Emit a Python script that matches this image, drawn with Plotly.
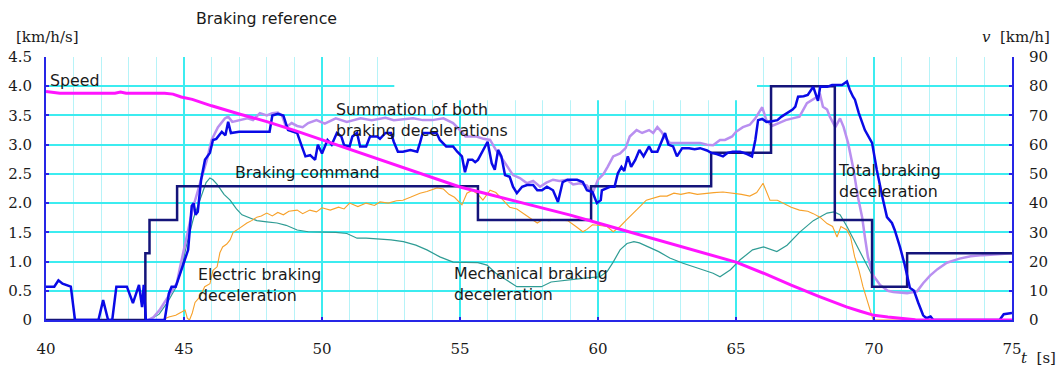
import plotly.graph_objects as go

# ---- braking test record: time [s] vs. deceleration [km/h/s] and speed [km/h] ----

speed_t = [40, 40.5, 41, 42, 42.5, 42.7, 42.9, 43.5, 44.3, 44.6, 44.9, 45.3, 46, 47, 48,
           49, 50, 51, 52, 53, 54, 55, 56, 57, 58, 59, 60, 61, 62, 63, 64, 65, 66, 67,
           68, 69, 69.5, 70, 70.5, 71, 71.5, 72, 75]
speed_v = [78.2, 77.6, 77.6, 77.6, 77.6, 78.0, 77.6, 77.6, 77.6, 77.3, 76.3, 75.5, 73.3,
           70.5, 67.9, 64.9, 61.7, 58.5, 55.2, 52.0, 48.7, 45.5, 43.1, 40.7, 38.3, 35.9,
           33.2, 30.5, 27.9, 25.2, 22.5, 19.8, 16.0, 11.9, 8.1, 4.5, 3.0, 1.6, 1.0, 0.5,
           0.1, 0.0, 0.0]

command_t = [40, 43.6, 43.75, 44.75, 55.65, 59.75, 64.1, 66.27, 68.58, 69.93, 71.2, 75]
command_v = [0.0, 1.14, 1.71, 2.29, 1.71, 2.29, 2.86, 4.0, 1.71, 0.57, 1.14, 1.14]

total_t = [40.0, 40.3, 40.45, 40.6, 40.9, 41.05, 41.9, 42.07, 42.25, 42.4, 42.55, 42.93,
           43.15, 43.37, 43.48, 43.54, 43.62, 44.3, 44.45, 44.55, 44.7, 44.9, 45.1, 45.15,
           45.28, 45.35, 45.42, 45.5, 45.62, 45.76, 45.94, 46.05, 46.17, 46.37, 46.5, 46.6,
           46.7, 47.0, 48.1, 48.2, 48.4, 48.6, 48.77, 49.1, 49.27, 49.4, 49.57, 49.75,
           49.85, 50.0, 50.2, 50.35, 50.54, 50.7, 50.8, 51.0, 51.1, 51.27, 51.38, 51.6,
           51.74, 52.0, 52.1, 52.3, 52.5, 52.6, 52.75, 52.93, 53.2, 53.45, 53.55, 53.65,
           54.15, 54.27, 54.5, 54.75, 54.9, 55.07, 55.18, 55.3, 55.45, 55.55, 55.65, 55.83,
           56.0, 56.15, 56.26, 56.38, 56.5, 56.63, 56.8, 56.92, 57.06, 57.25, 57.43, 57.65,
           57.8, 57.97, 58.15, 58.37, 58.55, 58.72, 58.9, 59.1, 59.24, 59.45, 59.6, 59.8,
           59.96, 60.1, 60.14, 60.43, 60.6, 60.72, 60.85, 60.95, 61.08, 61.2, 61.35, 61.5,
           61.65, 61.85, 61.95, 62.15, 62.32, 62.43, 62.55, 62.72, 62.86, 63.05, 63.3, 63.5,
           63.7, 63.95, 64.1, 64.3, 64.53, 64.7, 64.88, 65.15, 65.4, 65.58, 65.7, 65.8,
           65.95, 66.1, 66.3, 66.5, 66.65, 66.85, 67.05, 67.15, 67.25, 67.45, 67.6, 67.8,
           67.9, 67.97, 68.05, 68.3, 68.48, 68.84, 69.02, 69.12, 69.24, 69.31, 69.45, 69.67,
           69.93, 70.1, 70.33, 70.47, 70.65, 70.75, 70.94, 71.1, 71.3, 71.45, 71.6, 71.78,
           71.9, 72.05, 72.15, 74.55, 74.7, 75.0]
total_v = [0.57, 0.57, 0.68, 0.62, 0.57, 0.0, 0.0, 0.34, 0.0, 0.0, 0.57, 0.57,
           0.29, 0.6, 0.22, 0.6, 0.0, 0.0, 0.45, 0.57, 0.57, 0.85, 1.14, 1.2,
           1.95, 2.0, 1.8, 1.85, 2.4, 2.74, 2.86, 3.08, 3.1, 3.22, 3.16, 3.39,
           3.2, 3.22, 3.22, 3.5, 3.53, 3.5, 3.25, 3.2, 2.97, 2.8, 2.82, 2.74,
           3.0, 2.85, 3.08, 3.0, 3.2, 3.14, 2.99, 2.97, 3.14, 3.2, 2.97, 2.97,
           3.14, 3.14, 3.1, 3.2, 3.2, 3.05, 2.88, 2.88, 2.91, 2.88, 3.03, 3.2,
           3.2, 3.08, 2.97, 2.97, 2.88, 2.8, 2.53, 2.74, 2.74, 2.7, 2.74, 2.91,
           3.05, 2.68, 2.57, 2.91, 2.8, 2.48, 2.45, 2.28, 2.17, 2.28, 2.31, 2.31,
           2.22, 2.22, 2.28, 2.22, 2.02, 2.36, 2.4, 2.4, 2.4, 2.36, 2.22, 2.19,
           2.0, 2.05, 2.22, 2.28, 2.28, 2.51, 2.62, 2.55, 2.8, 2.62, 2.74, 2.91,
           2.8, 2.97, 2.88, 2.88, 3.08, 3.2, 3.0, 2.97, 2.8, 2.94, 2.94, 2.92,
           2.94, 2.9, 2.86, 2.84, 2.8, 2.86, 2.88, 2.88, 2.84, 2.8, 3.08, 3.42,
           3.44, 3.39, 3.4, 3.42, 3.48, 3.54, 3.6, 3.65, 3.82, 3.83, 3.85, 3.99,
           3.85, 3.75, 3.99, 3.99, 4.02, 4.02, 4.08, 3.94, 3.82, 3.77, 3.54, 3.25,
           3.03, 2.57, 2.05, 1.76, 1.66, 1.54, 1.25, 0.97, 0.55, 0.5, 0.3, 0.08,
           0.03, 0.06, 0.0, 0.0, 0.1, 0.12]

sum_t = [43.7, 43.9, 44.13, 44.4, 44.74, 44.86, 45.1, 45.33, 45.58, 45.83, 46.0, 46.23,
         46.48, 46.6, 46.75, 47.0, 47.3, 47.5, 47.75, 48.0, 48.2, 48.4, 48.55, 48.7,
         48.9, 49.1, 49.3, 49.5, 49.8, 50.1, 50.5, 50.9, 51.4, 51.8, 52.3, 52.6, 53.0,
         53.3, 53.65, 54.0, 54.4, 54.75, 55.0, 55.2, 55.6, 55.85, 56.09, 56.3, 56.56,
         56.74, 56.92, 57.17, 57.43, 57.65, 57.9, 58.13, 58.37, 58.6, 58.87, 59.1, 59.35,
         59.6, 59.8, 60.0, 60.2, 60.35, 60.55, 60.8, 61.0, 61.15, 61.4, 61.6, 61.85, 62.0,
         62.15, 62.3, 62.4, 62.6, 62.85, 63.1, 63.45, 63.7, 63.95, 64.17, 64.42, 64.6,
         64.86, 65.0, 65.25, 65.5, 65.7, 65.95, 66.1, 66.3, 66.55, 66.8, 67.05, 67.3,
         67.57, 67.8, 68.05, 68.15, 68.3, 68.4, 68.6, 68.77, 68.9, 69.06, 69.24, 69.42,
         69.57, 69.67, 69.78, 69.96, 70.22, 70.5, 70.7, 71.2, 71.56, 71.78, 72.03, 72.3,
         72.64, 73.1, 73.5, 73.95, 74.5, 75.0]
sum_v = [0.0, 0.05, 0.18, 0.38, 0.63, 0.91, 1.45, 1.93, 2.34, 2.74, 3.08, 3.3,
         3.45, 3.48, 3.39, 3.42, 3.45, 3.42, 3.54, 3.5, 3.54, 3.55, 3.5, 3.3,
         3.37, 3.32, 3.3, 3.37, 3.42, 3.36, 3.45, 3.39, 3.45, 3.42, 3.46, 3.42, 3.44,
         3.45, 3.42, 3.42, 3.45, 3.37, 3.25, 3.14, 3.14, 3.1, 3.08, 2.91, 2.74,
         2.6, 2.48, 2.43, 2.34, 2.38, 2.28, 2.35, 2.4, 2.38, 2.4, 2.32, 2.34,
         2.3, 2.17, 2.4, 2.5, 2.62, 2.8, 2.85, 2.94, 3.14, 3.25, 3.2, 3.25, 3.2,
         3.3, 3.22, 3.14, 3.03, 3.03, 3.02, 3.02, 3.03, 3.0, 2.99, 3.08, 3.08,
         3.14, 3.22, 3.3, 3.34, 3.45, 3.64, 3.42, 3.32, 3.37, 3.42, 3.45, 3.48,
         3.71, 3.77, 3.85, 3.65, 3.6, 3.48, 3.3, 3.45, 3.3, 3.03, 2.62, 2.1,
         1.76, 1.42, 1.08, 0.77, 0.6, 0.5, 0.48, 0.46, 0.49, 0.63, 0.76, 0.87,
         0.98, 1.05, 1.09, 1.11, 1.13, 1.14]

electric_t = [40.0, 44.2, 44.45, 44.7, 44.93, 45.04, 45.12, 45.2, 45.3, 45.4, 45.58, 45.75,
              45.94, 46.05, 46.2, 46.3, 46.4, 46.55, 46.67, 46.78, 46.95, 47.1, 47.28, 47.45,
              47.64, 47.8, 48.0, 48.2, 48.4, 48.6, 48.8, 49.1, 49.3, 49.56, 49.8, 50.0, 50.3,
              50.6, 50.8, 51.0, 51.3, 51.6, 51.9, 52.1, 52.4, 52.7, 52.93, 53.2, 53.55, 53.8,
              54.17, 54.4, 54.6, 54.8, 55.07, 55.25, 55.45, 55.65, 55.83, 56.09, 56.3, 56.56,
              56.8, 57.06, 57.28, 57.5, 57.8, 58.0, 58.2, 58.6, 58.9, 59.2, 59.45, 59.6, 59.8,
              60.0, 60.33, 60.55, 60.8, 61.05, 61.27, 61.5, 61.75, 62.0, 62.25, 62.5, 62.75,
              63.0, 63.3, 63.6, 63.9, 64.2, 64.53, 64.9, 65.2, 65.5, 65.75, 65.98, 66.23,
              66.5, 66.8, 67.0, 67.3, 67.6, 67.8, 68.04, 68.3, 68.5, 68.66, 68.8, 69.02,
              69.15, 69.3, 69.45, 69.6, 69.75, 69.9, 69.97, 75.0]
electric_v = [0.0, 0.0, 0.05, 0.08, 0.14, 0.17, 0.03, 0.0, 0.12, 0.3, 0.4, 0.57,
              0.62, 0.85, 0.91, 1.15, 1.25, 1.3, 1.37, 1.5, 1.55, 1.6, 1.66, 1.7,
              1.76, 1.78, 1.83, 1.78, 1.84, 1.8, 1.86, 1.88, 1.82, 1.88, 1.85, 1.92, 1.88,
              1.93, 1.9, 2.0, 1.94, 2.0, 1.96, 2.02, 2.0, 2.04, 2.05, 2.1, 2.17, 2.2,
              2.26, 2.24, 2.15, 2.1, 1.97, 2.17, 2.22, 2.15, 2.05, 2.22, 2.18, 2.05,
              1.93, 1.9, 1.83, 1.76, 1.66, 1.72, 1.7, 1.71, 1.7, 1.6, 1.51, 1.55, 1.63,
              1.62, 1.6, 1.51, 1.6, 1.72, 1.83, 1.93, 2.05, 2.08, 2.12, 2.12, 2.17,
              2.15, 2.18, 2.15, 2.17, 2.18, 2.19, 2.17, 2.15, 2.12, 2.18, 2.34, 2.05,
              2.05, 1.98, 1.93, 1.88, 1.86, 1.82, 1.76, 1.65, 1.6, 1.42, 1.6, 1.54,
              1.42, 1.08, 0.86, 0.57, 0.34, 0.12, 0.0, 0.0]

mech_t = [43.75, 44.1, 44.4, 44.7, 44.9, 45.1, 45.35, 45.6, 45.8, 45.94, 46.05, 46.2,
          46.45, 46.67, 46.9, 47.1, 47.4, 47.64, 48.0, 48.37, 48.7, 49.1, 49.5, 50.0,
          50.5, 50.9, 51.27, 51.6, 52.0, 52.5, 52.95, 53.4, 53.8, 54.27, 54.75, 55.2,
          55.65, 55.98, 56.3, 56.7, 57.06, 57.5, 57.95, 58.3, 58.8, 59.3, 59.6, 60.07,
          60.33, 60.55, 60.8, 61.05, 61.3, 61.5, 61.8, 62.2, 62.6, 63.08, 63.6, 64.17,
          64.42, 64.8, 65.15, 65.6, 66.0, 66.48, 66.85, 67.3, 67.8, 68.3, 68.55, 68.77,
          69.02, 69.24, 69.5, 69.75, 69.96]
mech_v = [0.0, 0.1, 0.3, 0.55, 0.85, 1.3, 1.75, 2.1, 2.35, 2.43, 2.4, 2.32,
          2.15, 2.05, 1.9, 1.8, 1.74, 1.7, 1.68, 1.66, 1.62, 1.54, 1.51, 1.51,
          1.5, 1.48, 1.4, 1.4, 1.39, 1.37, 1.34, 1.28, 1.2, 1.08, 0.99, 0.99,
          0.98, 0.94, 0.8, 0.68, 0.57, 0.57, 0.57, 0.65, 0.68, 0.7, 0.72, 0.74,
          0.83, 0.99, 1.2, 1.31, 1.34, 1.32, 1.25, 1.17, 1.06, 0.97, 0.89, 0.8,
          0.74, 0.86, 1.03, 1.2, 1.25, 1.17, 1.28, 1.5, 1.7, 1.83, 1.85, 1.8,
          1.6, 1.4, 1.14, 0.91, 0.74]

decel_ticks = [0, 0.5, 1.0, 1.5, 2.0, 2.5, 3.0, 3.5, 4.0, 4.5]
decel_labels = ["0", "0.5", "1.0", "1.5", "2.0", "2.5", "3.0", "3.5", "4.0", "4.5"]
speed_ticks = [0, 10, 20, 30, 40, 50, 60, 70, 80, 90]
time_ticks = [40, 45, 50, 55, 60, 65, 70, 75]

# ---- styling ----
AXIS_BLUE = "#2626e6"
GRID_MAJOR = "#3cecf0"
GRID_MINOR = "#b6f3f8"
TEXT = "#1a1a1a"
LABEL_FONT = dict(family="DejaVu Sans", size=15.8, color=TEXT)
NUM_FONT = dict(family="DejaVu Serif", size=15, color=TEXT)

fig = go.Figure()

fig.add_trace(go.Scatter(x=mech_t, y=mech_v, mode="lines",
                         line=dict(color="#2f9c94", width=1.2), name="Mechanical"))
fig.add_trace(go.Scatter(x=electric_t, y=electric_v, mode="lines",
                         line=dict(color="#f7a12a", width=1.1), name="Electric"))
fig.add_trace(go.Scatter(x=sum_t, y=sum_v, mode="lines",
                         line=dict(color="#b98ff0", width=2.5), name="Summation"))
fig.add_trace(go.Scatter(x=command_t, y=command_v, mode="lines", line_shape="hv",
                         line=dict(color="#14147a", width=2.5), name="Command"))
fig.add_trace(go.Scatter(x=total_t, y=total_v, mode="lines",
                         line=dict(color="#0a0ae6", width=2.5), name="Total"))
fig.add_trace(go.Scatter(x=speed_t, y=speed_v, mode="lines", yaxis="y2",
                         line=dict(color="#ff14ff", width=3), name="Speed"))

# blank panel over the upper grid in the middle of the chart
fig.add_shape(type="rect", xref="x", yref="y", x0=52.62, x1=65.76, y0=3.76, y1=4.62,
              fillcolor="white", line=dict(width=0), layer="between")

annotations = [
    dict(text="Speed", x=40.07, y=4.09),
    dict(text="Summation of both<br>braking decelerations", x=50.45, y=3.42),
    dict(text="Braking command", x=46.76, y=2.52),
    dict(text="Electric braking<br>deceleration", x=45.45, y=0.6),
    dict(text="Mechanical braking<br>deceleration", x=54.7, y=0.62),
    dict(text="Total braking<br>deceleration", x=68.62, y=2.38),
]
for a in annotations:
    fig.add_annotation(text=a["text"], x=a["x"], y=a["y"], xref="x", yref="y",
                       xanchor="left", yanchor="middle", align="left", showarrow=False,
                       font=LABEL_FONT)

fig.add_annotation(text="Braking reference", x=48.0, y=1.148, xref="x", yref="paper",
                   xanchor="center", yanchor="middle", showarrow=False, font=LABEL_FONT)
fig.add_annotation(text="[km/h/s]", x=-0.0331, y=1.076, xref="paper", yref="paper",
                   xanchor="left", yanchor="middle", showarrow=False, font=NUM_FONT)
fig.add_annotation(text="<i>v</i>  [km/h]", x=0.967, y=1.076, xref="paper", yref="paper",
                   xanchor="left", yanchor="middle", showarrow=False, font=NUM_FONT)
fig.add_annotation(text="<i>t</i>  [s]", x=1.0075, y=-0.145, xref="paper", yref="paper",
                   xanchor="left", yanchor="middle", showarrow=False, font=NUM_FONT)

fig.update_layout(
    width=1057, height=369,
    margin=dict(l=46, r=45, t=57, b=49),
    paper_bgcolor="white", plot_bgcolor="white",
    showlegend=False,
    xaxis=dict(range=[40, 75], tickvals=time_ticks, ticktext=[str(v) for v in time_ticks],
               automargin=False,
               showgrid=True, gridcolor=GRID_MAJOR, gridwidth=2,
               minor=dict(dtick=1, showgrid=True, gridcolor=GRID_MINOR, gridwidth=1),
               zeroline=False, showline=True, linecolor=AXIS_BLUE, linewidth=2,
               ticks="inside", ticklen=3, tickcolor=AXIS_BLUE, tickwidth=2,
               tickfont=NUM_FONT, ticklabelstandoff=14),
    yaxis=dict(range=[0, 4.5], tickvals=decel_ticks, ticktext=decel_labels,
               automargin=False,
               showgrid=True, gridcolor=GRID_MAJOR, gridwidth=2,
               zeroline=False, showline=True, linecolor=AXIS_BLUE, linewidth=2,
               ticks="inside", ticklen=3, tickcolor=AXIS_BLUE, tickwidth=2,
               tickfont=NUM_FONT, ticklabelstandoff=9),
    yaxis2=dict(range=[0, 90], tickvals=speed_ticks, ticktext=[str(v) for v in speed_ticks],
                automargin=False,
                overlaying="y", side="right", showgrid=False, zeroline=False,
                showline=True, linecolor=AXIS_BLUE, linewidth=2,
                ticks="inside", ticklen=3, tickcolor=AXIS_BLUE, tickwidth=2,
                tickfont=NUM_FONT, ticklabelstandoff=12),
)

fig.write_html("out.html")
